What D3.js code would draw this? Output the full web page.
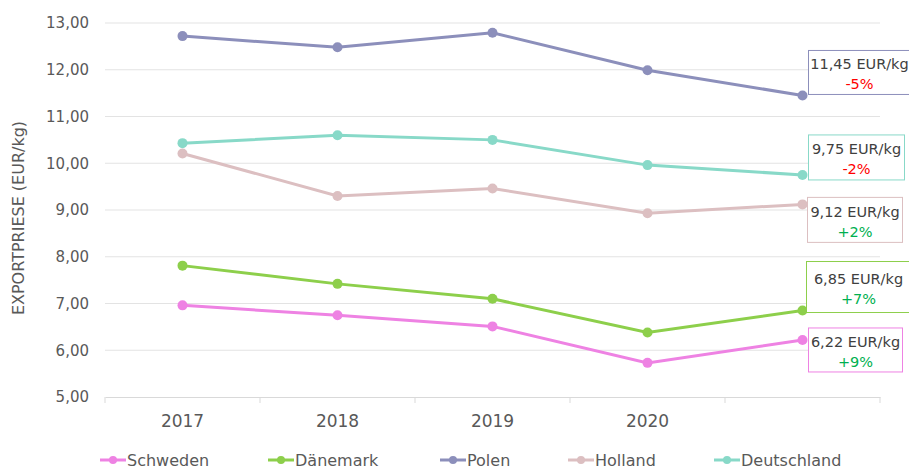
<!DOCTYPE html>
<html>
<head>
<meta charset="utf-8">
<style>
  body { margin: 0; background: #fff; }
  text { font-family: "DejaVu Sans", sans-serif; fill: #595959; }
</style>
</head>
<body>
<svg width="909" height="469"></svg>
<script src="https://cdn.jsdelivr.net/npm/d3@7"></script>
<script>
// categories (5th slot has no label)
var years = ["2017", "2018", "2019", "2020", "2021"];
var yearLabels = ["2017", "2018", "2019", "2020", ""];
var yTicks = [5, 6, 7, 8, 9, 10, 11, 12, 13];

var seriesNames = ["Schweden", "Dänemark", "Polen", "Holland", "Deutschland"];
var seriesColors = ["#ee82e3", "#8dcf4b", "#8c8fbb", "#dcbfc1", "#88d9c8"];

var schweden    = [6.96, 6.75, 6.51, 5.73, 6.22];
var daenemark   = [7.81, 7.42, 7.10, 6.38, 6.85];
var polen       = [12.72, 12.48, 12.79, 11.99, 11.45];
var holland     = [10.21, 9.30, 9.46, 8.93, 9.12];
var deutschland = [10.43, 10.60, 10.50, 9.96, 9.75];

var priceLabels  = ["6,22 EUR/kg", "6,85 EUR/kg", "11,45 EUR/kg", "9,12 EUR/kg", "9,75 EUR/kg"];
var changeLabels = ["+9%", "+7%", "-5%", "+2%", "-2%"];

var allValues = [schweden, daenemark, polen, holland, deutschland];

var svg = d3.select("svg"),
    margin = {top: 23, left: 105, right: 29, bottom: 72},
    width = 909 - margin.left - margin.right,
    height = 469 - margin.top - margin.bottom;

var g = svg.append("g")
    .attr("transform", "translate(" + margin.left + "," + margin.top + ")");

var x = d3.scaleBand().domain(years).range([0, width]);
var y = d3.scaleLinear().domain([5, 13]).range([height, 0]);

// gridlines
g.selectAll(".grid")
  .data(yTicks.slice(1))
  .enter().append("line")
    .attr("x1", 0).attr("x2", width)
    .attr("y1", function(d) { return y(d); })
    .attr("y2", function(d) { return y(d); })
    .attr("stroke", "#e3e3e3")
    .attr("stroke-width", 1);

// y axis labels
var yAxis = g.append("g")
    .call(d3.axisLeft(y).tickValues(yTicks).tickSize(0).tickPadding(16)
      .tickFormat(function(d) { return d3.format(".2f")(d).replace(".", ","); }));
yAxis.select(".domain").remove();
yAxis.selectAll("text").attr("font-size", 15).attr("fill", "#595959")
    .style("font-family", "DejaVu Sans");

// x axis
var xAxis = g.append("g")
    .attr("transform", "translate(0," + height + ")")
    .call(d3.axisBottom(x).tickSize(0).tickPadding(18)
      .tickFormat(function(d, i) { return yearLabels[i]; }));
xAxis.select(".domain").attr("stroke", "#d9d9d9");
xAxis.selectAll("text").attr("font-size", 17).attr("fill", "#595959")
    .style("font-family", "DejaVu Sans");

var bounds = years.map(function(d) { return x(d); }).concat([width]);
g.selectAll(".xtick")
  .data(bounds)
  .enter().append("line")
    .attr("x1", function(d) { return d; }).attr("x2", function(d) { return d; })
    .attr("y1", height).attr("y2", height + 6)
    .attr("stroke", "#d9d9d9");

// axis title
svg.append("text")
    .attr("transform", "translate(24," + (margin.top + height / 2 + 8) + ") rotate(-90)")
    .attr("text-anchor", "middle")
    .attr("font-size", 16)
    .text("EXPORTPRIESE (EUR/kg)");

var line = d3.line()
    .x(function(d, i) { return x(years[i]) + x.bandwidth() / 2; })
    .y(function(d) { return y(d); });

allValues.forEach(function(vals, s) {
  g.append("path")
    .datum(vals)
    .attr("fill", "none")
    .attr("stroke", seriesColors[s])
    .attr("stroke-width", 3)
    .attr("d", line);
  g.selectAll(".pt" + s)
    .data(vals)
    .enter().append("circle")
      .attr("cx", function(d, i) { return x(years[i]) + x.bandwidth() / 2; })
      .attr("cy", function(d) { return y(d); })
      .attr("r", 5)
      .attr("fill", seriesColors[s]);
});

// data label boxes on the last point
var boxTop = [-12, -49, -45, -7, -40];
var boxH = [44, 51, 44, 45, 45];
var boxW = [94, 104, 102, 95, 96];
var boxDx = [6, 4, 6, 5, 6];

allValues.forEach(function(vals, s) {
  var last = vals.length - 1;
  var px = x(years[last]) + x.bandwidth() / 2;
  var py = y(vals[last]);
  var bx = px + boxDx[s], by = py + boxTop[s];
  var lbl = g.append("g");
  lbl.append("rect")
    .attr("x", bx).attr("y", by)
    .attr("width", boxW[s]).attr("height", boxH[s])
    .attr("fill", "#fff")
    .attr("stroke", seriesColors[s])
    .attr("stroke-width", 1);
  lbl.append("text")
    .attr("x", bx + boxW[s] / 2).attr("y", by + boxH[s] / 2 - 3)
    .attr("text-anchor", "middle")
    .attr("font-size", 14.5)
    .style("fill", "#404040")
    .text(priceLabels[s]);
  lbl.append("text")
    .attr("x", bx + boxW[s] / 2).attr("y", by + boxH[s] / 2 + 17)
    .attr("text-anchor", "middle")
    .attr("font-size", 14.5)
    .style("fill", changeLabels[s][0] === "-" ? "#ff0000" : "#00b050")
    .text(changeLabels[s]);
});

// legend
var legendX = [100, 268, 440, 568, 714];
var legend = svg.append("g").attr("transform", "translate(0,460)");
seriesNames.forEach(function(name, s) {
  var it = legend.append("g").attr("transform", "translate(" + legendX[s] + ",0)");
  it.append("line")
    .attr("x1", 0).attr("x2", 26).attr("y1", 0).attr("y2", 0)
    .attr("stroke", seriesColors[s]).attr("stroke-width", 3);
  it.append("circle").attr("cx", 13).attr("cy", 0).attr("r", 4).attr("fill", seriesColors[s]);
  it.append("text")
    .attr("x", 27).attr("y", 6)
    .attr("font-size", 16)
    .text(name);
});
</script>
</body>
</html>
